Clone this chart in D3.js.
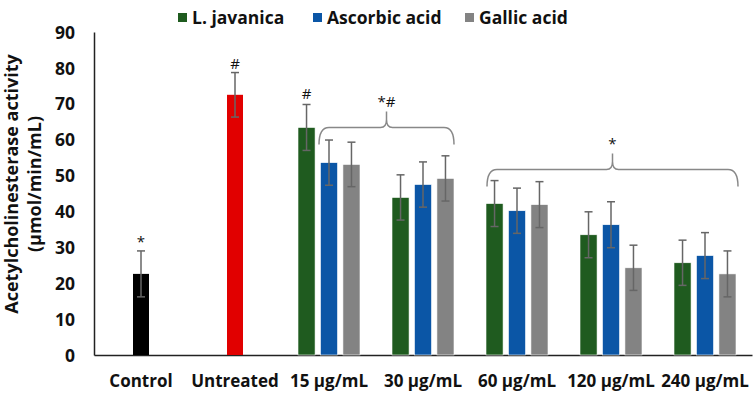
<!DOCTYPE html>
<html>
<head>
    <meta charset="utf-8" />
    <style>
        body { margin: 0; background: #fff; }
        svg text { font-family: "Open Sans", sans-serif; font-weight: 700; fill: #111; }
        .axis path, .axis line { stroke: #222; }
        .err { stroke: #666; stroke-width: 1.5; fill: none; }
        .brace { stroke: #888; stroke-width: 1.5; fill: none; }
    </style>
    <script src="https://d3js.org/d3.v7.min.js"></script>
</head>
<body>
<script>

// categories along the x axis
let categories = ["Control", "Untreated", "15 µg/mL", "30 µg/mL", "60 µg/mL", "120 µg/mL", "240 µg/mL"];

// the two reference bars
let refValues = [22.6, 72.5];
let refErrors = [6.4, 6.2];
let refColors = ["#000000", "#e10000"];
let refMarks = ["*", "#"];

// treatment series (one value per concentration)
let series = ["L. javanica", "Ascorbic acid", "Gallic acid"];
let seriesColors = ["#1f5b1f", "#0b56a6", "#838383"];
let doses = ["15 µg/mL", "30 µg/mL", "60 µg/mL", "120 µg/mL", "240 µg/mL"];
let javanica = [63.4, 43.9, 42.2, 33.5, 25.7];
let ascorbic = [53.6, 47.5, 40.2, 36.3, 27.7];
let gallic = [53.1, 49.2, 41.9, 24.3, 22.6];
let javanicaErr = [6.4, 6.3, 6.4, 6.4, 6.3];
let ascorbicErr = [6.3, 6.3, 6.3, 6.4, 6.4];
let gallicErr = [6.2, 6.3, 6.4, 6.3, 6.4];

let yTicks = [0, 10, 20, 30, 40, 50, 60, 70, 80, 90];

let W = 754, H = 398;
let margin = { top: 32, right: 2, bottom: 43, left: 94 };

let svg = d3.select("body").append("svg")
    .attr("width", W)
    .attr("height", H);

let x = d3.scaleBand()
    .domain(categories)
    .range([margin.left, W - margin.right])
    .padding(0);

let y = d3.scaleLinear()
    .domain([0, 90])
    .range([H - margin.bottom, margin.top]);

// inner scale for the grouped bars
let xs = d3.scaleBand()
    .domain(series)
    .range([-31, 31])
    .paddingInner(0.24);

// axes
let yAxis = d3.axisLeft(y).tickValues(yTicks).tickSize(0).tickPadding(19);
let gy = svg.append("g")
    .attr("class", "axis")
    .attr("transform", "translate(" + margin.left + ",0)")
    .call(yAxis);
gy.select(".domain").attr("stroke-width", 1.5);
gy.selectAll("text").style("font-size", "17.5px").attr("dy", "0.35em");

let xAxis = d3.axisBottom(x).tickSize(0).tickPadding(20);
let gx = svg.append("g")
    .attr("class", "axis")
    .attr("transform", "translate(0," + y(0) + ")")
    .call(xAxis);
gx.select(".domain").attr("stroke-width", 1.5);
gx.selectAll("text").style("font-size", "17px").attr("dy", "0.68em");

// reference bars
let refData = refValues.map((v, i) => ({ cat: categories[i], v: v, e: refErrors[i], c: refColors[i], m: refMarks[i] }));

svg.selectAll("rect.ref")
    .data(refData)
    .enter()
    .append("rect")
    .attr("class", "ref")
    .attr("x", d => x(d.cat) + x.bandwidth() / 2 - 8)
    .attr("width", 16)
    .attr("y", d => y(d.v))
    .attr("height", d => y(0) - y(d.v))
    .attr("fill", d => d.c);

// grouped bars
let groupData = [];
let vals = [javanica, ascorbic, gallic];
let errs = [javanicaErr, ascorbicErr, gallicErr];
doses.forEach((dose, i) => {
    series.forEach((s, j) => {
        groupData.push({ cat: dose, s: s, v: vals[j][i], e: errs[j][i], c: seriesColors[j] });
    });
});

svg.selectAll("rect.grp")
    .data(groupData)
    .enter()
    .append("rect")
    .attr("class", "grp")
    .attr("x", d => x(d.cat) + x.bandwidth() / 2 + xs(d.s))
    .attr("width", xs.bandwidth())
    .attr("y", d => y(d.v))
    .attr("height", d => y(0) - y(d.v))
    .attr("fill", d => d.c)
    .attr("stroke", "#fff")
    .attr("stroke-width", 0.6);

// error bars
let errData = refData.map(d => ({ cx: x(d.cat) + x.bandwidth() / 2, v: d.v, e: d.e }))
    .concat(groupData.map(d => ({ cx: x(d.cat) + x.bandwidth() / 2 + xs(d.s) + xs.bandwidth() / 2, v: d.v, e: d.e })));

let eg = svg.selectAll("g.errbar")
    .data(errData)
    .enter()
    .append("g")
    .attr("class", "err");
eg.append("line")
    .attr("x1", d => d.cx).attr("x2", d => d.cx)
    .attr("y1", d => y(d.v + d.e)).attr("y2", d => y(d.v - d.e));
eg.append("line")
    .attr("x1", d => d.cx - 4).attr("x2", d => d.cx + 4)
    .attr("y1", d => y(d.v + d.e)).attr("y2", d => y(d.v + d.e));
eg.append("line")
    .attr("x1", d => d.cx - 4).attr("x2", d => d.cx + 4)
    .attr("y1", d => y(d.v - d.e)).attr("y2", d => y(d.v - d.e));

// significance marks over the single bars
svg.selectAll("text.mark")
    .data(refData)
    .enter()
    .append("text")
    .attr("class", "mark")
    .attr("x", d => x(d.cat) + x.bandwidth() / 2)
    .attr("y", d => y(d.v + d.e) - 4)
    .attr("text-anchor", "middle")
    .style("font-weight", 400)
    .style("font-size", "15px")
    .text(d => d.m);

// "#" over the 15 µg/mL L. javanica bar
let jx = x(doses[0]) + x.bandwidth() / 2 + xs(series[0]) + xs.bandwidth() / 2;
svg.append("text")
    .attr("x", jx)
    .attr("y", y(javanica[0] + javanicaErr[0]) - 5)
    .attr("text-anchor", "middle")
    .style("font-weight", 400)
    .style("font-size", "15px")
    .text("#");

// curly brackets
function brace(x0, x1, yv, label) {
    let yb = y(yv);
    let xm = (x0 + x1) / 2;
    let p = d3.path();
    p.moveTo(x0, yb + 17);
    p.quadraticCurveTo(x0, yb, x0 + 10, yb);
    p.lineTo(xm - 6, yb);
    p.quadraticCurveTo(xm, yb, xm, yb - 8);
    p.lineTo(xm, yb - 16);
    p.moveTo(xm, yb - 8);
    p.quadraticCurveTo(xm, yb, xm + 6, yb);
    p.lineTo(x1 - 10, yb);
    p.quadraticCurveTo(x1, yb, x1, yb + 17);
    svg.append("path").attr("class", "brace").attr("d", p.toString());
    svg.append("text")
        .attr("x", xm)
        .attr("y", yb - 20)
        .attr("text-anchor", "middle")
        .style("font-weight", 400)
        .style("font-size", "15px")
        .text(label);
}
brace(x(doses[0]) + x.bandwidth() / 2 - 10, x(doses[1]) + x.bandwidth() / 2 + 31, 63.4, "*#");
brace(x(doses[2]) + x.bandwidth() / 2 - 30, x(doses[4]) + x.bandwidth() / 2 + 33, 51.7, "*");

// y axis title
let yt = svg.append("text")
    .attr("transform", "translate(18,184) rotate(-90)")
    .attr("text-anchor", "middle")
    .style("font-size", "18px");
yt.append("tspan").attr("x", 0).attr("dy", 0).text("Acetylcholinesterase activity");
yt.append("tspan").attr("x", 0).attr("dy", 23).text("(µmol/min/mL)");

// legend
let legendX = [178, 313, 465];
let lg = svg.selectAll("g.legend")
    .data(series)
    .enter()
    .append("g")
    .attr("class", "legend")
    .attr("transform", (d, i) => "translate(" + legendX[i] + ",12)");
lg.append("rect")
    .attr("width", 9).attr("height", 9)
    .attr("y", 1)
    .attr("fill", (d, i) => seriesColors[i]);
lg.append("text")
    .attr("x", 14)
    .attr("y", 5.5)
    .attr("dy", "0.35em")
    .style("font-size", "17.5px")
    .text(d => d);

</script>
</body>
</html>
